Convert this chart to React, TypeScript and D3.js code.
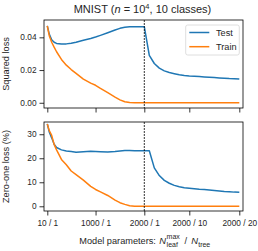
import React, { useEffect, useRef } from "react";
import * as d3 from "d3";

// left half: N_leaf^max grows with a single tree
const leafCounts = [10, 50, 100, 150, 200, 300, 400, 500, 600, 750, 900, 1000, 1100, 1250, 1400, 1500, 1600, 1700, 1800, 1900, 2000];
// right half: N_leaf^max = 2000, N_tree grows
const treeCounts = [1, 2, 3, 4, 5, 6, 7, 8, 9, 10, 11, 12, 13, 14, 15, 16, 17, 18, 19, 20];

const sqTestLeaf = [0.047, 0.042, 0.0385, 0.037, 0.0363, 0.0359, 0.036, 0.0364, 0.037, 0.0382, 0.0393, 0.0402, 0.0412, 0.0428, 0.0445, 0.0455, 0.0462, 0.0465, 0.0465, 0.0465, 0.0465];
const sqTrainLeaf = [0.047, 0.041, 0.037, 0.034, 0.0312, 0.0265, 0.023, 0.0203, 0.018, 0.0145, 0.012, 0.0107, 0.0088, 0.0062, 0.0035, 0.0018, 0.0006, 0.0001, 0, 0, 0];
const sqTestTree = [0.0465, 0.029, 0.024, 0.0212, 0.0195, 0.0185, 0.0178, 0.0171, 0.0167, 0.0164, 0.0162, 0.016, 0.0158, 0.0156, 0.0154, 0.0152, 0.015, 0.0148, 0.0147, 0.0145];
const sqTrainTree = [0, 0, 0, 0, 0, 0, 0, 0, 0, 0, 0, 0, 0, 0, 0, 0, 0, 0, 0, 0];

const zoTestLeaf = [34.3, 31, 28.5, 25.8, 24.5, 23.5, 23.0, 22.8, 22.5, 22.7, 22.9, 22.8, 22.7, 22.6, 22.8, 23.0, 23.2, 23.2, 23.1, 23.1, 23.1];
const zoTrainLeaf = [34.3, 31.5, 29.5, 25.8, 23.5, 19.5, 17.3, 14.7, 13.2, 10.9, 8.3, 7.0, 6.0, 4.5, 2.6, 1.5, 0.8, 0.2, 0, 0, 0];
const zoTestTree = [23.1, 23.1, 16.0, 12.8, 10.8, 9.6, 8.7, 8.1, 7.7, 7.5, 7.3, 7.1, 6.95, 6.8, 6.6, 6.4, 6.2, 6.1, 5.9, 5.8];
const zoTrainTree = [0, 0, 0, 0, 0, 0, 0, 0, 0, 0, 0, 0, 0, 0, 0, 0, 0, 0, 0, 0];

const xTickValues = [10, 1000, 2000, 2009, 2019];
const xTickLabels = ["10 / 1", "1000 / 1", "2000 / 1", "2000 / 10", "2000 / 20"];
const sqTicks = [0, 0.02, 0.04];
const zoTicks = [0, 10, 20, 30];

const BLUE = "#1f77b4";
const ORANGE = "#ff7f0e";
const FONT = "'Liberation Sans', Arial, Helvetica, sans-serif";
const INK = "#262626";

const W = 258;
const H = 251;
const left = 44;
const right = 243;

const App = () => {
  const svgRef = useRef(null);

  useEffect(() => {
    const svg = d3.select(svgRef.current);
    svg.selectAll("*").remove();

    const x = d3.scaleLinear().domain([10, 2000, 2019]).range([47.3, 144.3, 239.3]);
    const toPts = (leafVals, treeVals) =>
      leafCounts
        .map((n, i) => [n, leafVals[i]])
        .concat(treeCounts.map((t, i) => [2000 + (t - 1), treeVals[i]]));

    const panels = [
      {
        top: 20,
        bottom: 108,
        domain: [-0.0032, 0.0506],
        ticks: sqTicks,
        fmt: d3.format(".2f"),
        label: "Squared loss",
        test: toPts(sqTestLeaf, sqTestTree),
        train: toPts(sqTrainLeaf, sqTrainTree),
        showX: false,
        legend: true,
      },
      {
        top: 122,
        bottom: 211,
        domain: [-1.96, 35.1],
        ticks: zoTicks,
        fmt: d3.format("d"),
        label: "Zero-one loss (%)",
        test: toPts(zoTestLeaf, zoTestTree),
        train: toPts(zoTrainLeaf, zoTrainTree),
        showX: true,
        legend: false,
      },
    ];

    panels.forEach((p, pi) => {
      const y = d3.scaleLinear().domain(p.domain).range([p.bottom, p.top]);
      const g = svg.append("g");

      const clipId = `clip-${pi}`;
      svg
        .append("clipPath")
        .attr("id", clipId)
        .append("rect")
        .attr("x", left)
        .attr("y", p.top)
        .attr("width", right - left)
        .attr("height", p.bottom - p.top);

      const line = d3
        .line()
        .x((d) => x(d[0]))
        .y((d) => y(d[1]));

      const plot = g.append("g").attr("clip-path", `url(#${clipId})`);
      plot
        .append("path")
        .attr("d", line(p.test))
        .attr("fill", "none")
        .attr("stroke", BLUE)
        .attr("stroke-width", 1.5)
        .attr("stroke-linejoin", "round");
      plot
        .append("path")
        .attr("d", line(p.train))
        .attr("fill", "none")
        .attr("stroke", ORANGE)
        .attr("stroke-width", 1.5)
        .attr("stroke-linejoin", "round");

      // separator between leaf growth and tree growth
      g.append("line")
        .attr("x1", x(2000))
        .attr("x2", x(2000))
        .attr("y1", p.top)
        .attr("y2", p.bottom)
        .attr("stroke", "#000")
        .attr("stroke-width", 0.8)
        .attr("stroke-dasharray", "2,1");

      // y axis
      const yAxis = g
        .append("g")
        .attr("transform", `translate(${left},0)`)
        .call(d3.axisLeft(y).tickValues(p.ticks).tickFormat(p.fmt).tickSize(4.5).tickSizeOuter(0).tickPadding(3));
      yAxis.select(".domain").remove();
      yAxis.selectAll("line").attr("stroke", "#000").attr("stroke-width", 0.8);
      yAxis.selectAll("text").attr("font-family", FONT).attr("font-size", 8.3).attr("fill", INK);

      // x axis
      const xAxis = g
        .append("g")
        .attr("transform", `translate(0,${p.bottom})`)
        .call(
          d3
            .axisBottom(x)
            .tickValues(xTickValues)
            .tickFormat((d, i) => (p.showX ? xTickLabels[i] : ""))
            .tickSize(4.5)
            .tickSizeOuter(0)
            .tickPadding(5)
        );
      xAxis.select(".domain").remove();
      xAxis.selectAll("line").attr("stroke", "#000").attr("stroke-width", 0.8);
      xAxis.selectAll("text").attr("font-family", FONT).attr("font-size", 8.3).attr("fill", INK);

      // frame
      g.append("rect")
        .attr("x", left)
        .attr("y", p.top)
        .attr("width", right - left)
        .attr("height", p.bottom - p.top)
        .attr("fill", "none")
        .attr("stroke", "#000")
        .attr("stroke-width", 0.8);

      // y label
      g.append("text")
        .attr("transform", `translate(9,${(p.top + p.bottom) / 2}) rotate(-90)`)
        .attr("text-anchor", "middle")
        .attr("font-family", FONT)
        .attr("font-size", 9.2)
        .attr("fill", INK)
        .text(p.label);

      if (p.legend) {
        const lg = g.append("g");
        lg.append("rect")
          .attr("x", 185.7)
          .attr("y", 25)
          .attr("width", 53.6)
          .attr("height", 30)
          .attr("rx", 2)
          .attr("fill", "#fff")
          .attr("fill-opacity", 0.8)
          .attr("stroke", "#d5d5d5")
          .attr("stroke-width", 0.8);
        [
          ["Test", BLUE, 32.5],
          ["Train", ORANGE, 46.7],
        ].forEach(([name, c, yy]) => {
          lg.append("line")
            .attr("x1", 189.3)
            .attr("x2", 209.3)
            .attr("y1", yy)
            .attr("y2", yy)
            .attr("stroke", c)
            .attr("stroke-width", 1.5);
          lg.append("text")
            .attr("x", 216)
            .attr("y", yy)
            .attr("dy", "0.35em")
            .attr("font-family", FONT)
            .attr("font-size", 9.2)
            .attr("fill", INK)
            .text(name);
        });
      }
    });

    // title
    const title = svg
      .append("text")
      .attr("x", 142.5)
      .attr("y", 13)
      .attr("text-anchor", "middle")
      .attr("font-family", FONT)
      .attr("font-size", 11)
      .attr("fill", INK);
    title.append("tspan").text("MNIST (");
    title.append("tspan").attr("font-style", "italic").text("n");
    title.append("tspan").text(" = 10");
    title.append("tspan").attr("font-size", 7.5).attr("dy", -4.5).text("4");
    title.append("tspan").attr("dy", 4.5).text(", 10 classes)");

    // x label
    const xl = svg.append("g").attr("font-family", FONT).attr("fill", INK);
    xl.append("text").attr("x", 79.3).attr("y", 244).attr("font-size", 9.2).text("Model parameters:");
    xl.append("text").attr("x", 159.3).attr("y", 244).attr("font-size", 9.4).attr("font-style", "italic").text("N");
    xl.append("text").attr("x", 166.6).attr("y", 239.3).attr("font-size", 7).text("max");
    xl.append("text").attr("x", 166.6).attr("y", 247.3).attr("font-size", 7).text("leaf");
    xl.append("text").attr("x", 184.5).attr("y", 244).attr("font-size", 9.2).text("/");
    xl.append("text").attr("x", 191.2).attr("y", 244).attr("font-size", 9.4).attr("font-style", "italic").text("N");
    xl.append("text").attr("x", 198.2).attr("y", 247.3).attr("font-size", 7).text("tree");
  }, []);

  return (
    <svg
      ref={svgRef}
      width={W}
      height={H}
      style={{ position: "absolute", left: 0, top: 0, background: "#fff" }}
    ></svg>
  );
};

export default App;
